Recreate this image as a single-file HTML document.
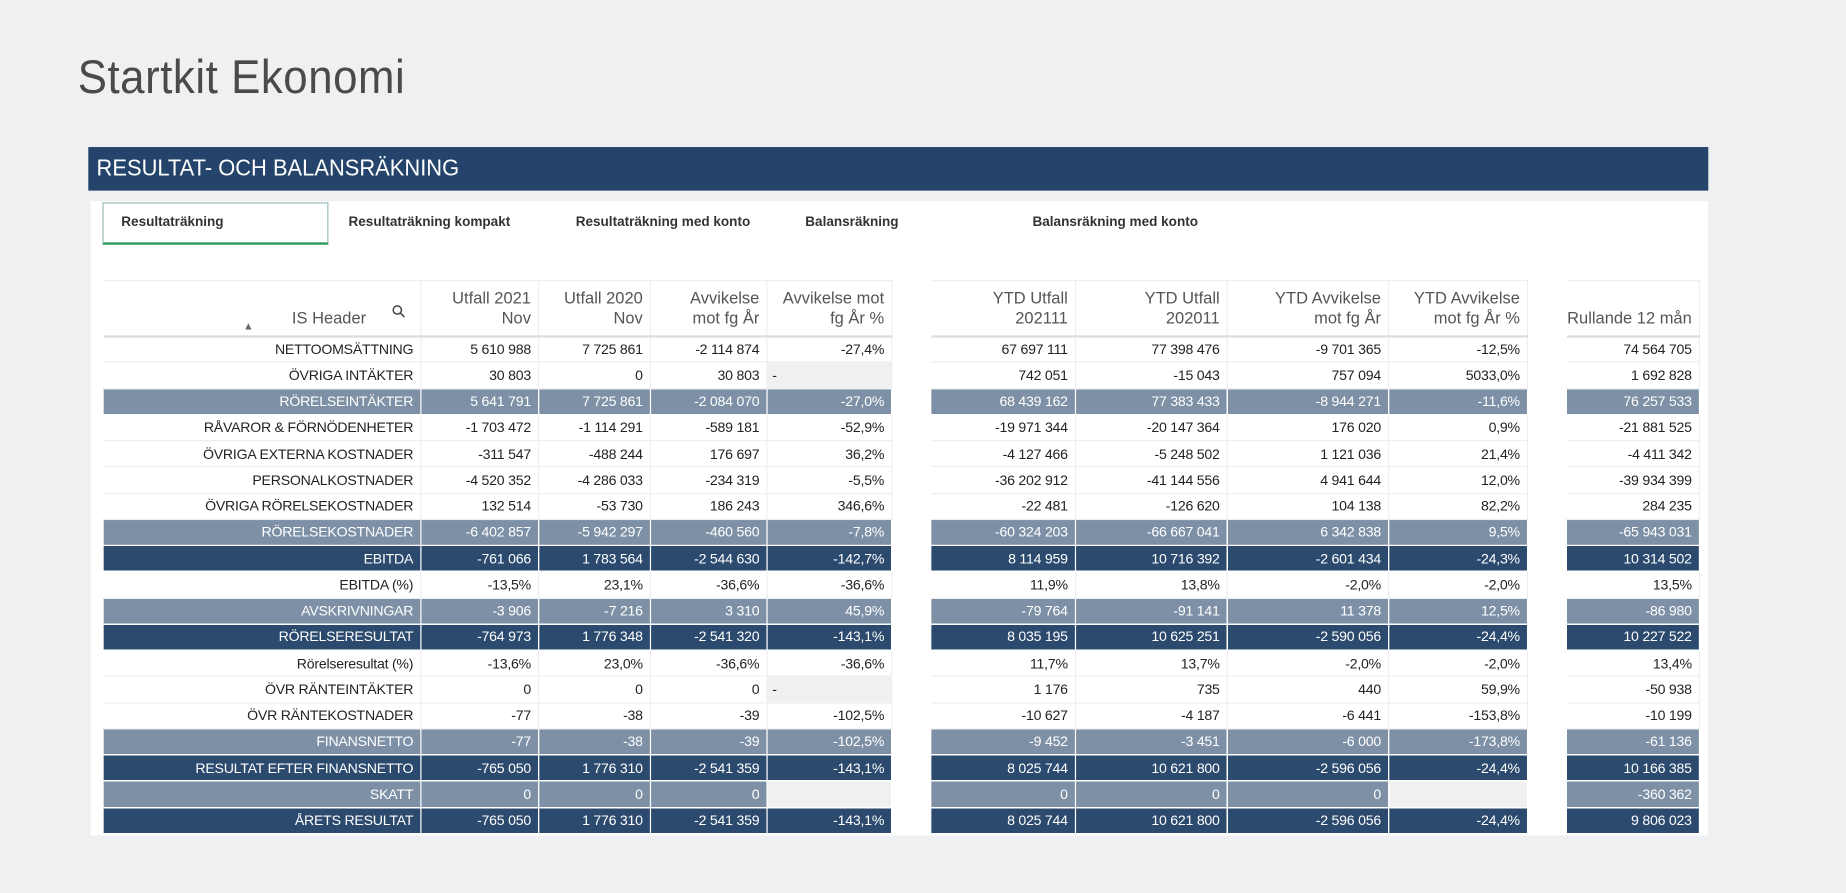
<!DOCTYPE html>
<html><head><meta charset="utf-8"><style>
*{margin:0;padding:0;box-sizing:border-box}
html,body{width:1846px;height:893px;overflow:hidden;background:#eff0f1}
#w{position:absolute;left:0;top:0;width:1568px;height:759px;transform:scale(1.1773,1.1766);transform-origin:0 0;font-family:"Liberation Sans",sans-serif}
.title{position:absolute;left:66px;top:44px;font-size:40px;color:#4a4a4a;font-weight:300;letter-spacing:0.5px;transform:scaleX(0.93);transform-origin:0 0}
.bar{position:absolute;left:75px;top:125px;width:1376px;height:37px;background:#25446b}
.bar span{position:absolute;left:7px;top:7px;color:#fff;font-size:20px;transform:scaleX(0.93);transform-origin:0 0}
.panel{position:absolute;left:77px;top:171px;width:1374px;height:539px;background:#fff}
.tab{position:absolute;top:189px;font-size:11.5px;font-weight:bold;color:#333;transform:translateY(-50%)}
.tab1{position:absolute;left:87px;top:172px;width:192px;height:36px;border:1px solid #9bb;border-bottom:2px solid #2a9a5a}
table{position:absolute;left:87px;top:238px;border-collapse:collapse;table-layout:fixed;font-size:12px;color:#222;letter-spacing:-0.2px}
td,th{text-align:right;padding:0 6px 0 0;white-space:nowrap;overflow:hidden}
th{height:47px;font-weight:normal;font-size:14px;color:#555;line-height:17px;vertical-align:bottom;padding-bottom:6px;border-right:1px solid #eee;border-bottom:2px solid #ddd;border-top:1px solid #eee;letter-spacing:0}
td{height:22.26px;border-bottom:1px solid #eee;border-right:1px solid #eee}
td.g,th.g{border:none;background:#fff}
tr.m td{background:#7d90a6;color:#fff;border:1px solid #fff}
tr.d td{background:#2b4a6e;color:#fff;border:1px solid #fff}
tr.m td.g,tr.d td.g{background:#fff}
td.l{background:#f0f0f0!important;text-align:left;padding-left:4px}
</style></head><body><div id="w">
<div class="title">Startkit Ekonomi</div>
<div class="bar"><span>RESULTAT- OCH BALANSRÄKNING</span></div>
<div class="panel"></div>
<div class="tab1"></div>
<div class="tab" style="left:103px">Resultaträkning</div>
<div class="tab" style="left:296px">Resultaträkning kompakt</div>
<div class="tab" style="left:489px">Resultaträkning med konto</div>
<div class="tab" style="left:684px">Balansräkning</div>
<div class="tab" style="left:877px">Balansräkning med konto</div>
<table>
<colgroup><col style="width:270px"><col style="width:100px"><col style="width:95px"><col style="width:99px"><col style="width:106px"><col style="width:33px"><col style="width:123px"><col style="width:129px"><col style="width:137px"><col style="width:118px"><col style="width:33px"><col style="width:113px"></colgroup>
<tr><th style="padding-right:46px;position:relative">IS Header<svg style="position:absolute;right:13px;top:20px" width="11" height="11" viewBox="0 0 11 11"><circle cx="4.5" cy="4.5" r="3.5" fill="none" stroke="#444" stroke-width="1.3"/><line x1="7" y1="7" x2="10.5" y2="10.5" stroke="#444" stroke-width="1.3"/></svg><span style="position:absolute;left:119px;bottom:-1px;font-size:9px;color:#666">&#9650;</span></th><th>Utfall 2021<br>Nov</th><th>Utfall 2020<br>Nov</th><th>Avvikelse<br>mot fg År</th><th>Avvikelse mot<br>fg År %</th><th class="g"></th><th>YTD Utfall<br>202111</th><th>YTD Utfall<br>202011</th><th>YTD Avvikelse<br>mot fg År</th><th>YTD Avvikelse<br>mot fg År %</th><th class="g"></th><th>Rullande 12 mån</th></tr>
<tr><td>NETTOOMSÄTTNING</td><td>5 610 988</td><td>7 725 861</td><td>-2 114 874</td><td>-27,4%</td><td class="g"></td><td>67 697 111</td><td>77 398 476</td><td>-9 701 365</td><td>-12,5%</td><td class="g"></td><td>74 564 705</td></tr>
<tr><td>ÖVRIGA INTÄKTER</td><td>30 803</td><td>0</td><td>30 803</td><td class="l">-</td><td class="g"></td><td>742 051</td><td>-15 043</td><td>757 094</td><td>5033,0%</td><td class="g"></td><td>1 692 828</td></tr>
<tr class="m"><td>RÖRELSEINTÄKTER</td><td>5 641 791</td><td>7 725 861</td><td>-2 084 070</td><td>-27,0%</td><td class="g"></td><td>68 439 162</td><td>77 383 433</td><td>-8 944 271</td><td>-11,6%</td><td class="g"></td><td>76 257 533</td></tr>
<tr><td>RÅVAROR &amp; FÖRNÖDENHETER</td><td>-1 703 472</td><td>-1 114 291</td><td>-589 181</td><td>-52,9%</td><td class="g"></td><td>-19 971 344</td><td>-20 147 364</td><td>176 020</td><td>0,9%</td><td class="g"></td><td>-21 881 525</td></tr>
<tr><td>ÖVRIGA EXTERNA KOSTNADER</td><td>-311 547</td><td>-488 244</td><td>176 697</td><td>36,2%</td><td class="g"></td><td>-4 127 466</td><td>-5 248 502</td><td>1 121 036</td><td>21,4%</td><td class="g"></td><td>-4 411 342</td></tr>
<tr><td>PERSONALKOSTNADER</td><td>-4 520 352</td><td>-4 286 033</td><td>-234 319</td><td>-5,5%</td><td class="g"></td><td>-36 202 912</td><td>-41 144 556</td><td>4 941 644</td><td>12,0%</td><td class="g"></td><td>-39 934 399</td></tr>
<tr><td>ÖVRIGA RÖRELSEKOSTNADER</td><td>132 514</td><td>-53 730</td><td>186 243</td><td>346,6%</td><td class="g"></td><td>-22 481</td><td>-126 620</td><td>104 138</td><td>82,2%</td><td class="g"></td><td>284 235</td></tr>
<tr class="m"><td>RÖRELSEKOSTNADER</td><td>-6 402 857</td><td>-5 942 297</td><td>-460 560</td><td>-7,8%</td><td class="g"></td><td>-60 324 203</td><td>-66 667 041</td><td>6 342 838</td><td>9,5%</td><td class="g"></td><td>-65 943 031</td></tr>
<tr class="d"><td>EBITDA</td><td>-761 066</td><td>1 783 564</td><td>-2 544 630</td><td>-142,7%</td><td class="g"></td><td>8 114 959</td><td>10 716 392</td><td>-2 601 434</td><td>-24,3%</td><td class="g"></td><td>10 314 502</td></tr>
<tr><td>EBITDA (%)</td><td>-13,5%</td><td>23,1%</td><td>-36,6%</td><td>-36,6%</td><td class="g"></td><td>11,9%</td><td>13,8%</td><td>-2,0%</td><td>-2,0%</td><td class="g"></td><td>13,5%</td></tr>
<tr class="m"><td>AVSKRIVNINGAR</td><td>-3 906</td><td>-7 216</td><td>3 310</td><td>45,9%</td><td class="g"></td><td>-79 764</td><td>-91 141</td><td>11 378</td><td>12,5%</td><td class="g"></td><td>-86 980</td></tr>
<tr class="d"><td>RÖRELSERESULTAT</td><td>-764 973</td><td>1 776 348</td><td>-2 541 320</td><td>-143,1%</td><td class="g"></td><td>8 035 195</td><td>10 625 251</td><td>-2 590 056</td><td>-24,4%</td><td class="g"></td><td>10 227 522</td></tr>
<tr><td>Rörelseresultat (%)</td><td>-13,6%</td><td>23,0%</td><td>-36,6%</td><td>-36,6%</td><td class="g"></td><td>11,7%</td><td>13,7%</td><td>-2,0%</td><td>-2,0%</td><td class="g"></td><td>13,4%</td></tr>
<tr><td>ÖVR RÄNTEINTÄKTER</td><td>0</td><td>0</td><td>0</td><td class="l">-</td><td class="g"></td><td>1 176</td><td>735</td><td>440</td><td>59,9%</td><td class="g"></td><td>-50 938</td></tr>
<tr><td>ÖVR RÄNTEKOSTNADER</td><td>-77</td><td>-38</td><td>-39</td><td>-102,5%</td><td class="g"></td><td>-10 627</td><td>-4 187</td><td>-6 441</td><td>-153,8%</td><td class="g"></td><td>-10 199</td></tr>
<tr class="m"><td>FINANSNETTO</td><td>-77</td><td>-38</td><td>-39</td><td>-102,5%</td><td class="g"></td><td>-9 452</td><td>-3 451</td><td>-6 000</td><td>-173,8%</td><td class="g"></td><td>-61 136</td></tr>
<tr class="d"><td>RESULTAT EFTER FINANSNETTO</td><td>-765 050</td><td>1 776 310</td><td>-2 541 359</td><td>-143,1%</td><td class="g"></td><td>8 025 744</td><td>10 621 800</td><td>-2 596 056</td><td>-24,4%</td><td class="g"></td><td>10 166 385</td></tr>
<tr class="m"><td>SKATT</td><td>0</td><td>0</td><td>0</td><td class="l"></td><td class="g"></td><td>0</td><td>0</td><td>0</td><td class="l"></td><td class="g"></td><td>-360 362</td></tr>
<tr class="d"><td>ÅRETS RESULTAT</td><td>-765 050</td><td>1 776 310</td><td>-2 541 359</td><td>-143,1%</td><td class="g"></td><td>8 025 744</td><td>10 621 800</td><td>-2 596 056</td><td>-24,4%</td><td class="g"></td><td>9 806 023</td></tr>
</table>
</div></body></html>
